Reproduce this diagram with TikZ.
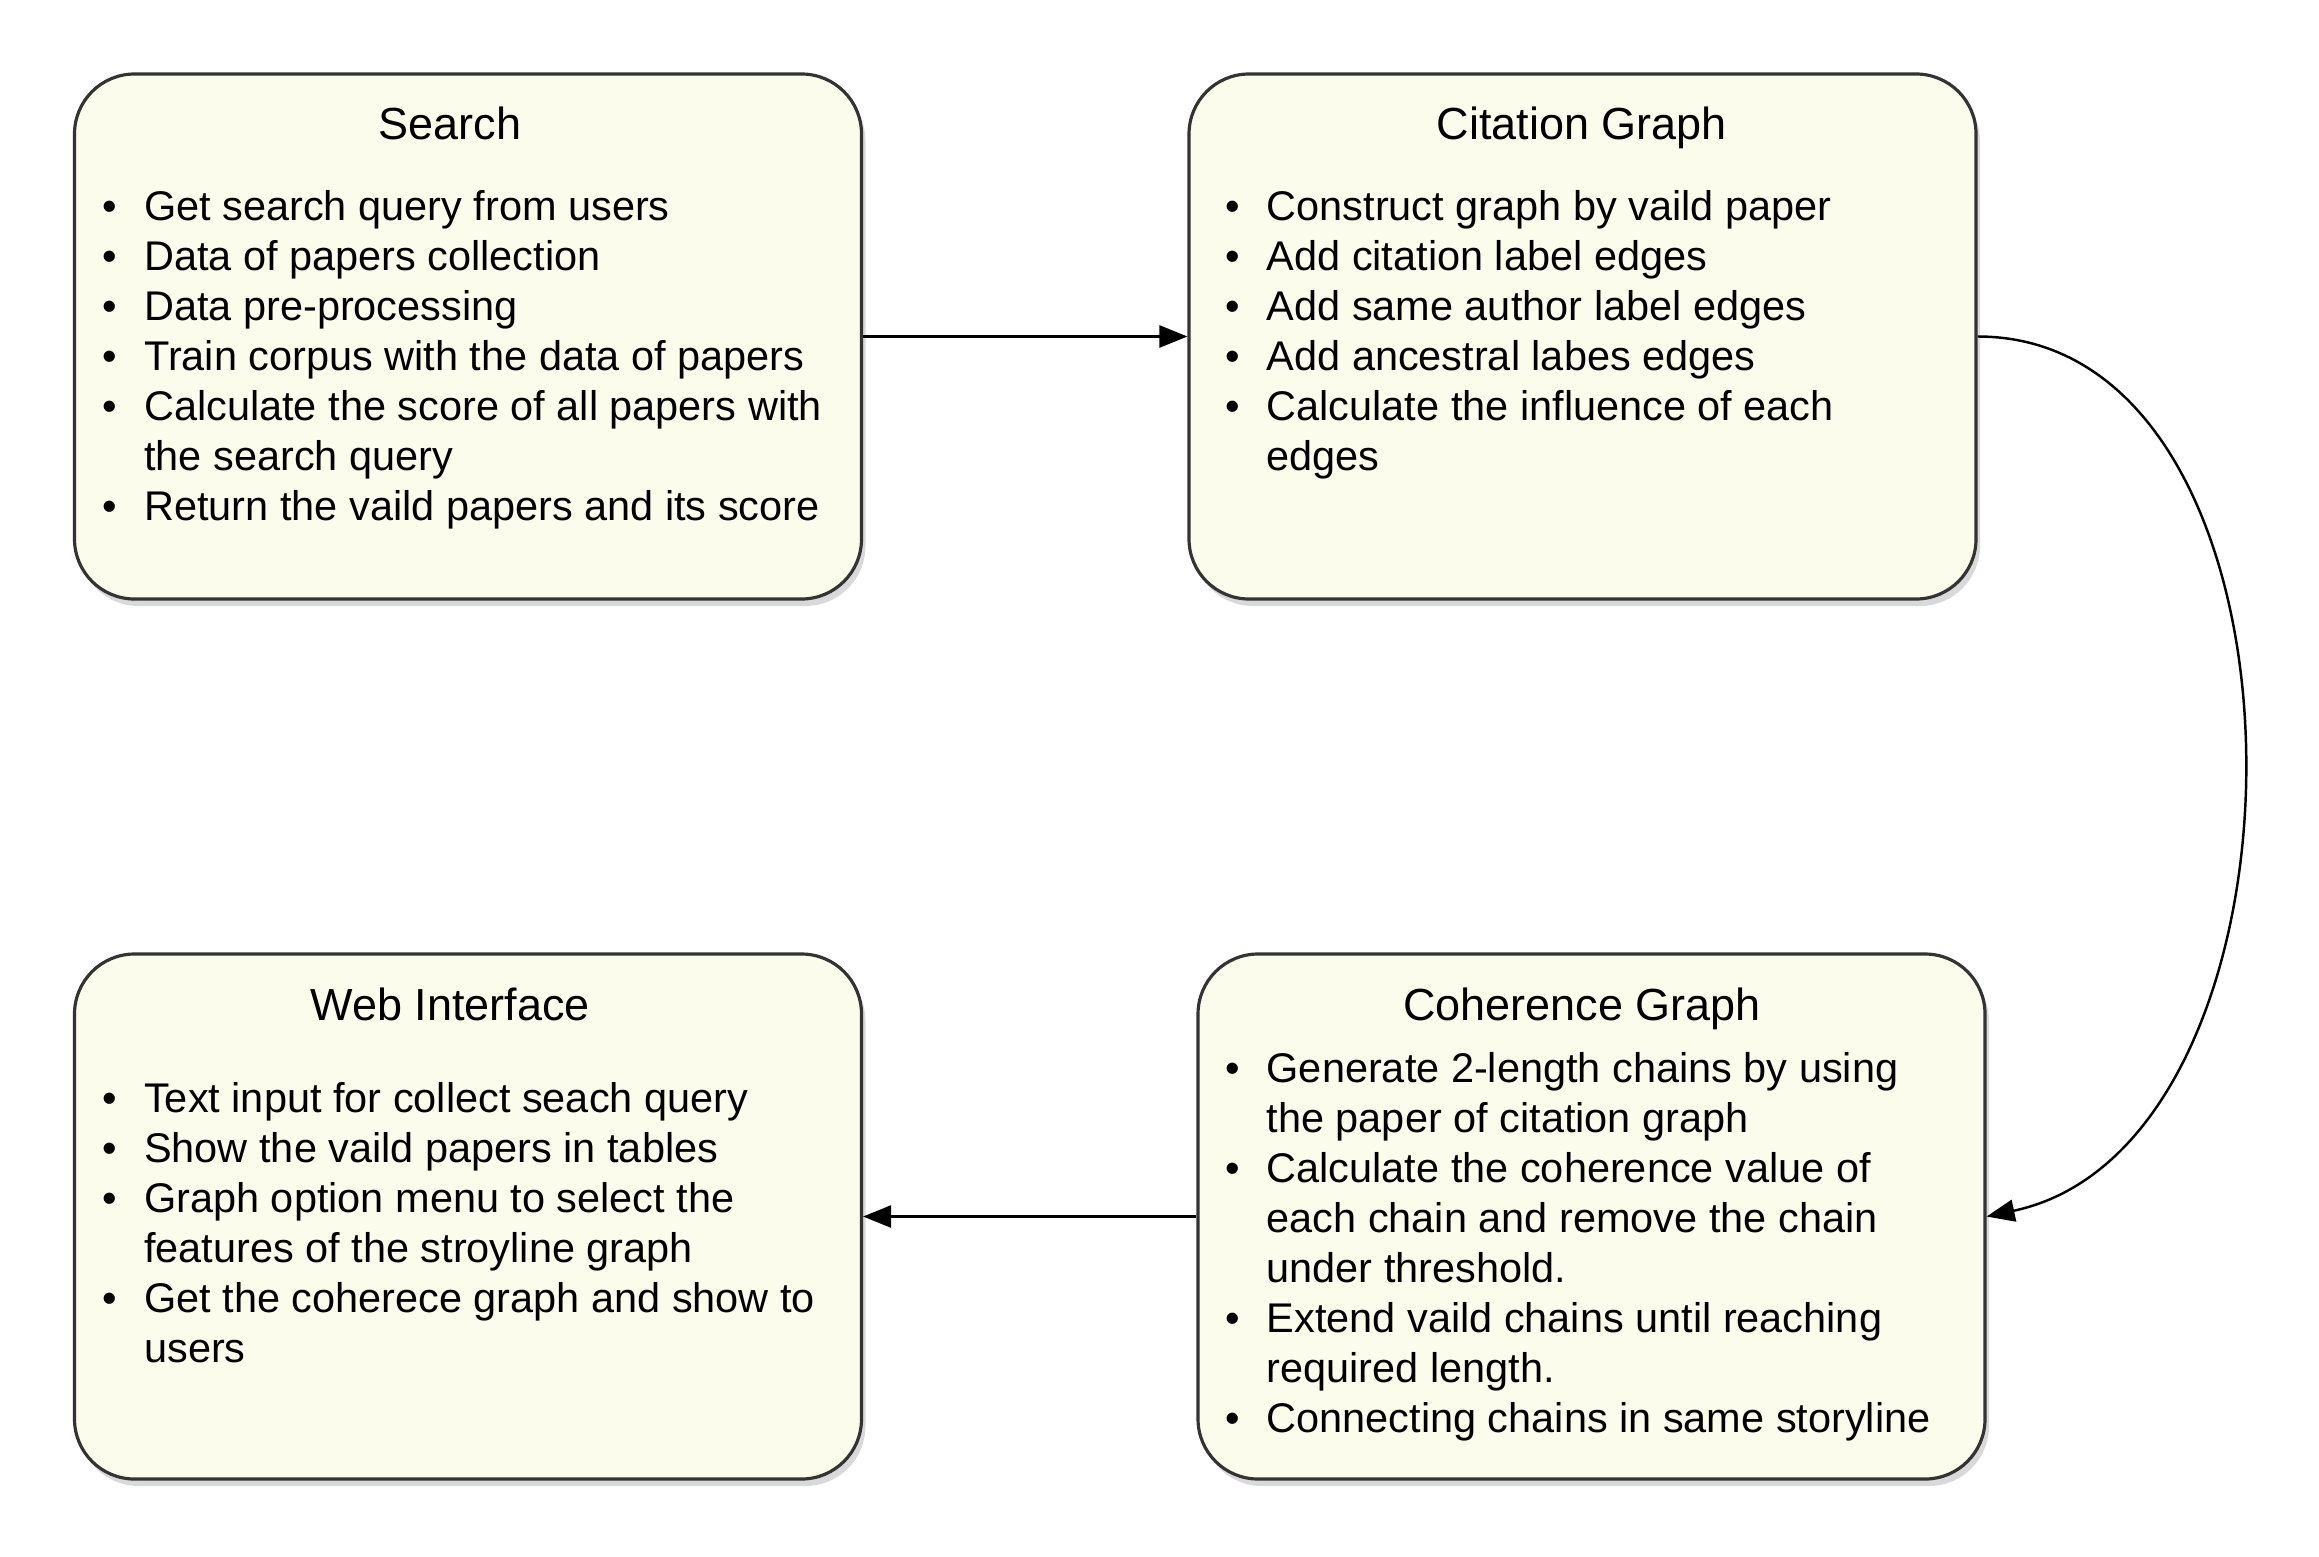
\documentclass[tikz,border=0pt]{standalone}
\usepackage{fontspec}
\setmainfont{Liberation Sans}
\usepackage{tikz}
\usetikzlibrary{arrows.meta, shadows}

\definecolor{boxfill}{RGB}{252,252,236}
\definecolor{boxline}{RGB}{51,51,51}

\newcommand{\titlefont}{\fontsize{12.8}{15}\selectfont}
\newcommand{\listfont}{\fontsize{11.8}{14.23}\selectfont}

\begin{document}
\begin{tikzpicture}[>={Triangle[length=0.28cm, width=0.22cm]}]

    % Define the styles
    \tikzstyle{panel} = [rectangle, draw=boxline, line width=0.9pt, fill=boxfill, rounded corners=0.6cm, minimum width=7.87cm, minimum height=5.25cm, drop shadow={shadow xshift=0.04cm, shadow yshift=-0.07cm, opacity=0.3}]
    \tikzstyle{heading} = [anchor=base, inner sep=0pt, font=\titlefont]
    \tikzstyle{items} = [anchor=base west, inner sep=0pt, font=\listfont]
    \tikzstyle{arrow} = [->, line width=0.7pt]

    \useasboundingbox (0,0) rectangle (23.19,-15.56);

    % Nodes
    \node (search) [panel] at (4.68,-3.365) {};
    \node (citation) [panel] at (15.825,-3.365) {};
    \node (web) [panel] at (4.68,-12.165) {};
    \node (coherence) [panel] at (15.915,-12.165) {};

    \node (search-title) [heading] at (4.50,-1.40) {Search};
    \node (citation-title) [heading] at (15.82,-1.40) {Citation Graph};
    \node (web-title) [heading] at (4.50,-10.20) {Web Interface};
    \node (coherence-title) [heading] at (15.82,-10.20) {Coherence Graph};

    \node (search-list) [items] at (1.02,-2.20) {\begin{tabular}[t]{@{}p{0.415cm}@{}l@{}}
        \textbullet & Get search query from users\\
        \textbullet & Data of papers collection\\
        \textbullet & Data pre-processing\\
        \textbullet & Train corpus with the data of papers\\
        \textbullet & Calculate the score of all papers with\\
                    & the search query\\
        \textbullet & Return the vaild papers and its score
    \end{tabular}};

    \node (citation-list) [items] at (12.245,-2.20) {\begin{tabular}[t]{@{}p{0.415cm}@{}l@{}}
        \textbullet & Construct graph by vaild paper\\
        \textbullet & Add citation label edges\\
        \textbullet & Add same author label edges\\
        \textbullet & Add ancestral labes edges\\
        \textbullet & Calculate the influence of each\\
                    & edges
    \end{tabular}};

    \node (web-list) [items] at (1.02,-11.12) {\begin{tabular}[t]{@{}p{0.415cm}@{}l@{}}
        \textbullet & Text input for collect seach query\\
        \textbullet & Show the vaild papers in tables\\
        \textbullet & Graph option menu to select the\\
                    & features of the stroyline graph\\
        \textbullet & Get the coherece graph and show to\\
                    & users
    \end{tabular}};

    \node (coherence-list) [items] at (12.245,-10.82) {\begin{tabular}[t]{@{}p{0.415cm}@{}l@{}}
        \textbullet & Generate 2-length chains by using\\
                    & the paper of citation graph\\
        \textbullet & Calculate the coherence value of\\
                    & each chain and remove the chain\\
                    & under threshold.\\
        \textbullet & Extend vaild chains until reaching\\
                    & required length.\\
        \textbullet & Connecting chains in same storyline
    \end{tabular}};

    % Arrows
    \draw [arrow] (search.east) -- (citation.west);
    \draw [arrow] (citation.east) to[out=0, in=12, looseness=1.02] (coherence.east);
    \draw [arrow] (coherence.west) -- (web.east);

\end{tikzpicture}
\end{document}
